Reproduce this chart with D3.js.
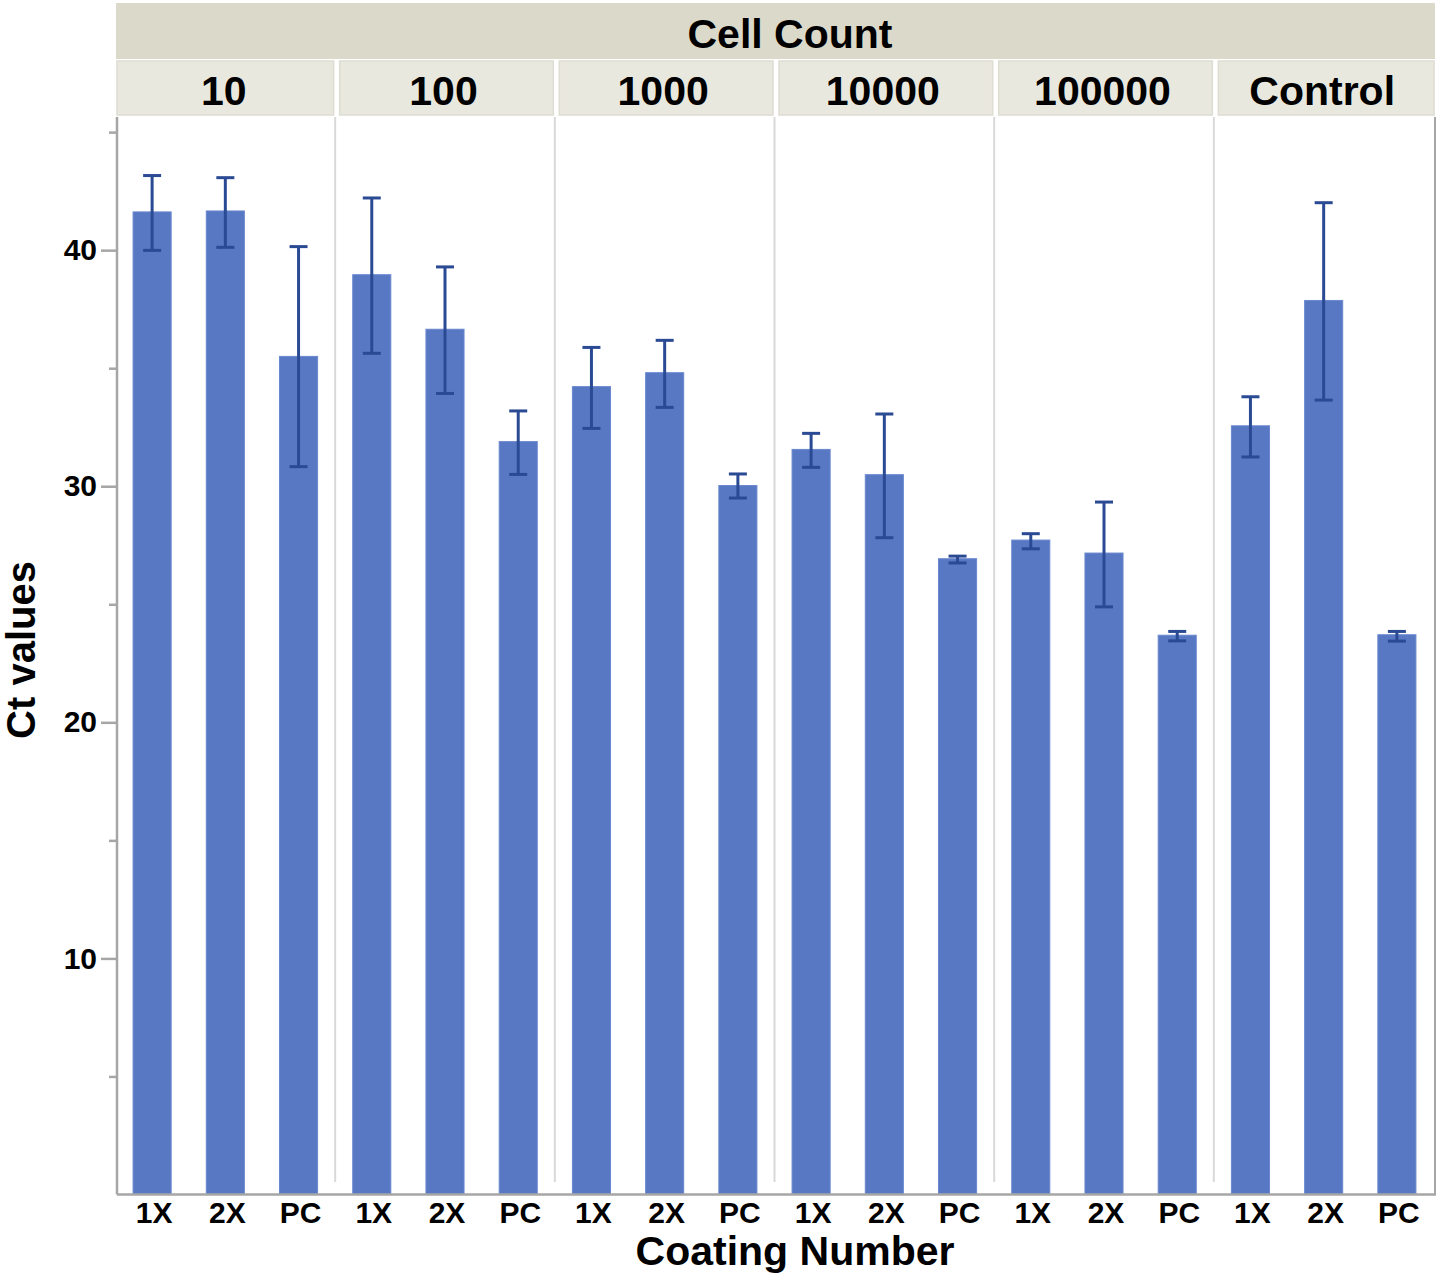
<!DOCTYPE html>
<html>
<head>
<meta charset="utf-8">
<script src="https://cdn.jsdelivr.net/npm/d3@7/dist/d3.min.js"></script>
<style>
  html, body { margin: 0; padding: 0; background: #fff; }
  svg { display: block; font-family: "Liberation Sans", Arial, sans-serif; }
</style>
</head>
<body>
<svg id="chart" width="1441" height="1279"></svg>
<script>
// ---- data ----
const cellCounts = ["10", "100", "1000", "10000", "100000", "Control"];
const coatings = ["1X", "2X", "PC"];
const means = [
  [41.62, 41.66, 35.50],
  [38.96, 36.65, 31.89],
  [34.22, 34.81, 30.03],
  [31.56, 30.49, 26.93],
  [27.72, 27.17, 23.69],
  [32.56, 37.87, 23.71]
];
const errUpper = [
  [43.16, 43.07, 40.15],
  [42.21, 39.29, 33.19],
  [35.88, 36.18, 30.52],
  [32.24, 33.06, 27.04],
  [27.99, 29.33, 23.85],
  [33.79, 42.01, 23.85]
];
const errLower = [
  [39.99, 40.12, 30.83],
  [35.63, 33.93, 30.50],
  [32.45, 33.34, 29.50],
  [30.80, 27.82, 26.75],
  [27.35, 24.89, 23.45],
  [31.24, 33.65, 23.44]
];
const majorTicks = [10, 20, 30, 40];
const minorTicks = [5, 15, 25, 35, 45];
const yTitle = "Ct values";
const xTitle = "Coating Number";
const groupTitle = "Cell Count";

(function () {
// ---- layout ----
const pLeft = 117, pRight = 1435, pTop = 117, pBottom = 1194.5;
const svg = d3.select("#chart");

const x0 = d3.scaleBand().domain(cellCounts).range([pLeft, pRight]).padding(0);
const x1 = d3.scaleBand().domain(coatings).range([-1.5, x0.bandwidth() - 1.5]).paddingInner(0.48).paddingOuter(0.24);
const y = d3.scaleLinear().domain([0, 45.64]).range([pBottom, pTop]);

// header strips
svg.append("rect").attr("x", 116).attr("y", 3).attr("width", pRight - 116).attr("height", 56)
  .attr("fill", "#DBD9C9");
svg.append("text").attr("x", 790).attr("y", 48).attr("text-anchor", "middle")
  .attr("font-size", 41).attr("font-weight", "bold").attr("fill", "#000").text(groupTitle);

const heads = svg.append("g");
cellCounts.forEach((c, i) => {
  const px = x0(c);
  heads.append("rect").attr("x", px + (i === 0 ? 0 : 3)).attr("y", 61)
    .attr("width", x0.bandwidth() - (i === 0 ? 3 : 6) + (i === cellCounts.length - 1 ? 2 : 0)).attr("height", 54)
    .attr("fill", "#E9E8DF").attr("stroke", "#DEDDD2").attr("stroke-width", 1.5);
  heads.append("text").attr("x", px + x0.bandwidth() / 2 - 3).attr("y", 105).attr("text-anchor", "middle")
    .attr("font-size", 41).attr("font-weight", "bold").attr("fill", "#000").text(c);
});

// panel separators
cellCounts.slice(1).forEach(c => {
  svg.append("line").attr("x1", x0(c) - 1.5).attr("x2", x0(c) - 1.5).attr("y1", pTop).attr("y2", 1182)
    .attr("stroke", "#D9D9D9").attr("stroke-width", 2);
});

// bars
const barColor = "#5878C4";
const errColor = "#2A4A94";
const flat = [];
cellCounts.forEach((c, i) => coatings.forEach((k, j) => flat.push({
  c, k, v: means[i][j], hi: errUpper[i][j], lo: errLower[i][j]
})));

const bars = svg.append("g");
bars.selectAll("rect").data(flat).join("rect")
  .attr("x", d => x0(d.c) + x1(d.k))
  .attr("width", x1.bandwidth())
  .attr("y", d => y(d.v))
  .attr("height", d => y(0) - y(d.v))
  .attr("fill", barColor)
  .attr("stroke", "#6A88CF").attr("stroke-width", 1);

// error bars
const eb = svg.append("g").attr("stroke", errColor).attr("stroke-width", 3).attr("fill", "none");
flat.forEach(d => {
  const cx = x0(d.c) + x1(d.k) + x1.bandwidth() / 2;
  eb.append("line").attr("x1", cx).attr("x2", cx).attr("y1", y(d.hi)).attr("y2", y(d.lo));
  eb.append("line").attr("x1", cx - 9).attr("x2", cx + 9).attr("y1", y(d.hi)).attr("y2", y(d.hi));
  eb.append("line").attr("x1", cx - 9).attr("x2", cx + 9).attr("y1", y(d.lo)).attr("y2", y(d.lo));
});

// frame
const frameColor = "#A6A6A6";
svg.append("line").attr("x1", pRight).attr("x2", pRight).attr("y1", pTop).attr("y2", pBottom)
  .attr("stroke", frameColor).attr("stroke-width", 2);
svg.append("line").attr("x1", pLeft).attr("x2", pRight + 1).attr("y1", pBottom).attr("y2", pBottom)
  .attr("stroke", frameColor).attr("stroke-width", 2.5);

// y axis
const yAxis = svg.append("g").attr("transform", `translate(${pLeft},0)`)
  .call(d3.axisLeft(y).tickValues(majorTicks).tickSize(16).tickPadding(4).tickSizeOuter(0));
yAxis.select(".domain").attr("stroke", frameColor).attr("stroke-width", 2.5)
  .attr("d", `M0,${pTop}V${pBottom}`);
yAxis.selectAll(".tick line").attr("stroke", frameColor).attr("stroke-width", 2.5);
yAxis.selectAll(".tick text").attr("font-size", 30).attr("font-weight", "bold").attr("fill", "#000")
  .attr("font-family", "Liberation Sans, Arial, sans-serif");

const yMinor = svg.append("g").attr("transform", `translate(${pLeft},0)`)
  .call(d3.axisLeft(y).tickValues(minorTicks).tickSize(8).tickFormat(""));
yMinor.select(".domain").remove();
yMinor.selectAll(".tick line").attr("stroke", frameColor).attr("stroke-width", 2.5);

// x tick labels
const xl = svg.append("g");
flat.forEach(d => {
  xl.append("text").attr("x", x0(d.c) + x1(d.k) + x1.bandwidth() / 2 + 2).attr("y", 1223)
    .attr("text-anchor", "middle").attr("font-size", 30).attr("font-weight", "bold").attr("fill", "#000")
    .text(d.k);
});

// titles
svg.append("text").attr("x", 795).attr("y", 1265).attr("text-anchor", "middle")
  .attr("font-size", 41).attr("font-weight", "bold").attr("fill", "#000").text(xTitle);
svg.append("text").attr("transform", "translate(35,650) rotate(-90)").attr("text-anchor", "middle")
  .attr("font-size", 40).attr("font-weight", "bold").attr("fill", "#000").text(yTitle);
})();
</script>
</body>
</html>
